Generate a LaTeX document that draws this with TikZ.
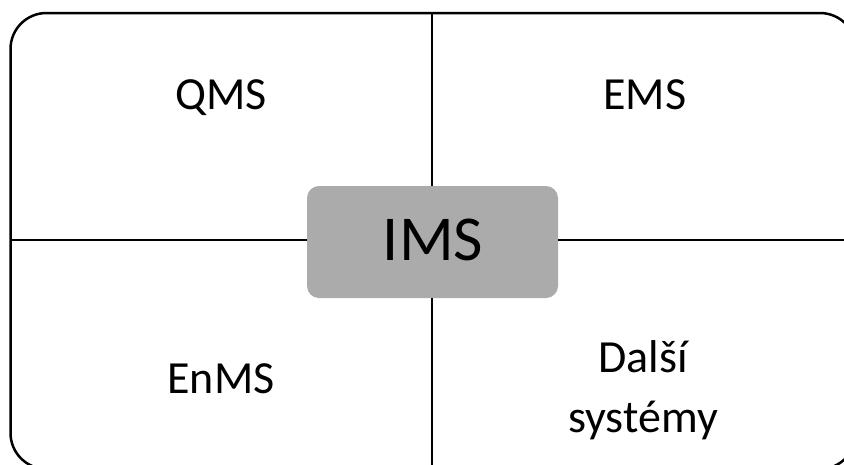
\documentclass[tikz,border=0pt]{standalone}
\usepackage{fontspec}
\setmainfont{Carlito}
\usetikzlibrary{positioning}
\tikzset{
x=1pt,
y=-1pt,
frame/.style={line width=2.5pt, rounded corners=36pt},
divider/.style={line width=2pt},
corebox/.style={fill=black!33, rounded corners=12pt, minimum width=251pt, minimum height=112pt, inner sep=0pt},
part/.style={anchor=base, inner sep=0pt, font=\fontsize{46}{60}\selectfont, align=center},
}

\begin{document}
\begin{tikzpicture}

    \useasboundingbox (0,0) rectangle (844,464);
    \draw[frame] (10.5,13) rectangle (856,469);

    \coordinate (top) at (432,13);
    \coordinate (bottom) at (432,469);
    \coordinate (left) at (10.5,240);
    \coordinate (right) at (856,240);

    \node[corebox] (ims) at (432.5,242) {};
    \draw[divider] (ims.north -| top) -- (top);
    \draw[divider] (ims.south -| bottom) -- (bottom);
    \draw[divider] (ims.west |- left) -- (left);
    \draw[divider] (ims.east |- right) -- (right);
    \node[anchor=base, inner sep=0pt, font=\fontsize{64}{70}\selectfont] (imstext) at (433,260) {IMS};

    \node[part] (qms) at (221,109) {QMS};
    \node[part] (ems) at (645,109) {EMS};
    \node[part] (enms) at (221,393) {EnMS};
    % base anchor sits on the last line
    \node[part] (other) at (643,432) {Další\\systémy};

\end{tikzpicture}
\end{document}
